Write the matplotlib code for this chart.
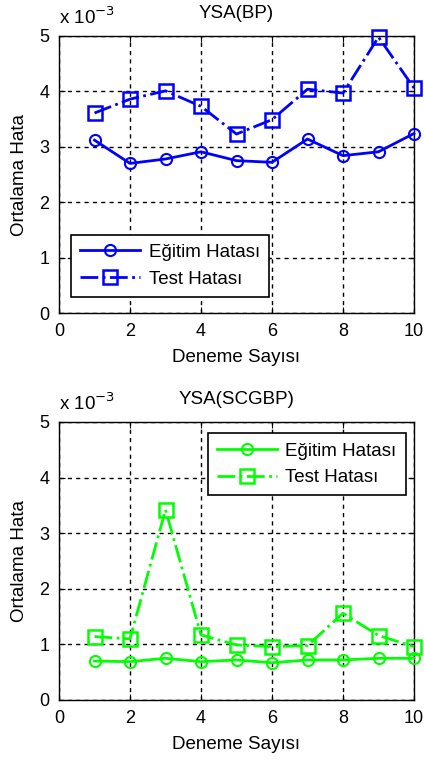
import matplotlib.pyplot as plt
from matplotlib.ticker import FuncFormatter

plt.rcParams['font.family'] = ['Liberation Sans', 'DejaVu Sans']

deneme = [1, 2, 3, 4, 5, 6, 7, 8, 9, 10]

# values in units of 1e-3
bp_egitim = [3.12, 2.70, 2.78, 2.91, 2.75, 2.72, 3.14, 2.84, 2.91, 3.24]
bp_test = [3.61, 3.86, 4.01, 3.73, 3.23, 3.49, 4.04, 3.97, 4.98, 4.06]
scg_egitim = [0.70, 0.69, 0.75, 0.69, 0.72, 0.67, 0.72, 0.72, 0.75, 0.75]
scg_test = [1.14, 1.10, 3.42, 1.17, 0.99, 0.96, 0.98, 1.56, 1.16, 0.96]

x_ticks = [0, 2, 4, 6, 8, 10]
y_ticks = [0, 1, 2, 3, 4, 5]

fig = plt.figure(figsize=(4.24, 7.6), dpi=100)
W, H = 424, 760
ax1 = fig.add_axes([59 / W, 1 - 313 / H, 355 / W, 277 / H])
ax2 = fig.add_axes([59 / W, 1 - 700 / H, 355 / W, 278 / H])

panels = [
    (ax1, bp_egitim, bp_test, '#0000ff', 'YSA(BP)', 'lower left', (0.034, 0.058)),
    (ax2, scg_egitim, scg_test, '#00ff00', 'YSA(SCGBP)', 'upper right', (0.977, 0.96)),
]

fs = 13.5
tfs = 13
for ax, egitim, test, col, title, loc, anchor in panels:
    ax.plot(deneme, [v * 1e-3 for v in egitim], '-', color=col, lw=2,
            marker='o', ms=8, mfc='none', mec=col, mew=1.5, label='Eğitim Hatası',
            clip_on=False, zorder=3)
    ax.plot(deneme, [v * 1e-3 for v in test], '-.', color=col, lw=2,
            marker='s', ms=10, mfc='none', mec=col, mew=1.8, label='Test Hatası',
            clip_on=False, zorder=3)
    ax.set_xlim(0, 10)
    ax.set_ylim(0, 5e-3)
    ax.set_xticks(x_ticks)
    ax.set_yticks([v * 1e-3 for v in y_ticks])
    ax.yaxis.set_major_formatter(FuncFormatter(lambda v, p: f'{v * 1e3:g}'))
    ax.tick_params(labelsize=tfs, direction='in', length=4, top=True, right=True, pad=7)
    ax.grid(True, color='black', ls=(0, (3, 3)), lw=1)
    for s in ax.spines.values():
        s.set_linewidth(1)
    ax.set_title(title, fontsize=fs, pad=13)
    ax.set_xlabel('Deneme Sayısı', fontsize=fs, labelpad=7)
    ax.set_ylabel('Ortalama Hata', fontsize=fs, labelpad=8)
    ax.text(0, 1.03, 'x 10$^{-3}$', transform=ax.transAxes, fontsize=fs,
            ha='left', va='bottom')
    leg = ax.legend(loc=loc, bbox_to_anchor=anchor, fontsize=fs, fancybox=False,
                    framealpha=1, edgecolor='black', handlelength=3.2,
                    handletextpad=0.45, borderpad=0.5, labelspacing=0.5,
                    borderaxespad=0)
    leg.get_frame().set_linewidth(1.2)

fig.savefig('out.png', dpi=100)
